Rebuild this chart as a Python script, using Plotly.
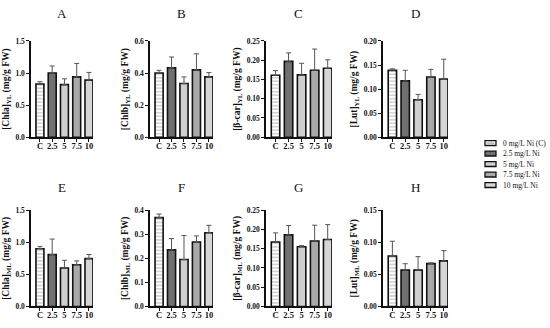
import plotly.graph_objects as go

categories = ["C", "2.5", "5", "7.5", "10"]
series_names = ["0 mg/L Ni (C)", "2.5 mg/L Ni", "5 mg/L Ni", "7.5 mg/L Ni", "10 mg/L Ni"]

panel_letters = ["A", "B", "C", "D", "E", "F", "G", "H"]
y_titles = ["[Chla]<sub>YL</sub> (mg/g FW)", "[Chlb]<sub>YL</sub> (mg/g FW)",
            "[β-car]<sub>YL</sub> (mg/g FW)", "[Lut]<sub>YL</sub> (mg/g FW)",
            "[Chla]<sub>ML</sub> (mg/g FW)", "[Chlb]<sub>ML</sub> (mg/g FW)",
            "[β-car]<sub>ML</sub> (mg/g FW)", "[Lut]<sub>ML</sub> (mg/g FW)"]

chla_yl = [0.83, 1.00, 0.82, 0.94, 0.89]
chla_yl_err = [0.035, 0.11, 0.09, 0.21, 0.12]
chlb_yl = [0.40, 0.433, 0.335, 0.42, 0.376]
chlb_yl_err = [0.017, 0.067, 0.041, 0.10, 0.027]
bcar_yl = [0.161, 0.197, 0.162, 0.174, 0.179]
bcar_yl_err = [0.012, 0.022, 0.030, 0.055, 0.022]
lut_yl = [0.139, 0.117, 0.078, 0.125, 0.121]
lut_yl_err = [0.003, 0.022, 0.011, 0.016, 0.041]
chla_ml = [0.90, 0.81, 0.60, 0.65, 0.745]
chla_ml_err = [0.035, 0.24, 0.12, 0.06, 0.065]
chlb_ml = [0.369, 0.235, 0.195, 0.268, 0.306]
chlb_ml_err = [0.015, 0.047, 0.10, 0.025, 0.031]
bcar_ml = [0.1675, 0.186, 0.155, 0.170, 0.174]
bcar_ml_err = [0.0235, 0.024, 0.003, 0.041, 0.0385]
lut_ml = [0.0786, 0.0566, 0.0566, 0.0668, 0.071]
lut_ml_err = [0.023, 0.010, 0.021, 0.0012, 0.016]

values = [chla_yl, chlb_yl, bcar_yl, lut_yl, chla_ml, chlb_ml, bcar_ml, lut_ml]
errors = [chla_yl_err, chlb_yl_err, bcar_yl_err, lut_yl_err,
          chla_ml_err, chlb_ml_err, bcar_ml_err, lut_ml_err]
y_max = [1.5, 0.6, 0.25, 0.20, 1.5, 0.4, 0.25, 0.15]
y_dtick = [0.5, 0.2, 0.05, 0.05, 0.5, 0.1, 0.05, 0.05]
y_fmt = [".1f", ".1f", ".2f", ".2f", ".1f", ".1f", ".2f", ".2f"]

bar_colors = ["#ffffff", "#707070", "#cfcfcf", "#a9a9a9", "#d6d6d6"]
patterns = ["-", "", "", "", ""]

FONT = "Liberation Serif"
W, H = 550, 328
col_px = [(31, 93), (150, 213), (266, 332), (383, 448)]
row_px = [(38, 137), (212, 311)]
title_y_px = [10, 189]

fig = go.Figure()
for p in range(8):
    r, c = divmod(p, 4)
    n = p + 1
    xa = "x" if n == 1 else f"x{n}"
    ya = "y" if n == 1 else f"y{n}"
    for i, cat in enumerate(categories):
        fig.add_trace(go.Bar(
            x=[i], y=[values[p][i]], width=0.65,
            name=series_names[i], showlegend=False,
            marker=dict(color=bar_colors[i],
                        line=dict(color="#111111", width=1.6),
                        pattern=dict(shape=patterns[i], fgcolor="#8a8a8a",
                                     bgcolor="#ffffff", size=3.5, solidity=0.35)),
            error_y=dict(type="data", symmetric=False, array=[errors[p][i]],
                         arrayminus=[0], color="#555555", thickness=1, width=2.5),
            xaxis=xa, yaxis=ya,
        ))
    x0, x1 = col_px[c]
    y0, y1 = row_px[r]
    xkey = "xaxis" if n == 1 else f"xaxis{n}"
    ykey = "yaxis" if n == 1 else f"yaxis{n}"
    fig.update_layout(**{
        xkey: dict(domain=[x0 / W, x1 / W], anchor=ya, range=[-0.73, 4.33],
                   tickvals=list(range(5)), ticktext=categories,
                   showline=True, linecolor="#111111", linewidth=1.5,
                   ticks="outside", ticklen=3, tickwidth=1, tickcolor="#111111",
                   showgrid=False, zeroline=False, ticklabelstandoff=-3,
                   tickfont=dict(family=FONT, size=8.5, color="#111111", weight="bold")),
        ykey: dict(domain=[1 - y1 / H, 1 - y0 / H], anchor=xa,
                   range=[0, y_max[p]], dtick=y_dtick[p], tick0=0, tickformat=y_fmt[p],
                   showline=True, linecolor="#111111", linewidth=1.5,
                   ticks="outside", ticklen=3, tickwidth=1, tickcolor="#111111",
                   showgrid=False, zeroline=False,
                   tickfont=dict(family=FONT, size=7.5, color="#111111", weight="bold"),
                   title=dict(text=y_titles[p], standoff=4,
                              font=dict(family=FONT, size=9.5, color="#111111", weight="bold"))),
    })
    fig.add_annotation(text=panel_letters[p], xref="paper", yref="paper",
                       x=(x0 + x1) / 2 / W, y=1 - title_y_px[r] / H,
                       showarrow=False, xanchor="center", yanchor="middle",
                       font=dict(family=FONT, size=13, color="#111111"))

# legend (drawn as small boxes + labels)
leg_x0, leg_x1 = 485, 496
for i, name in enumerate(series_names):
    yc = 143 + i * 10.8
    fig.add_shape(type="rect", xref="paper", yref="paper",
                  x0=leg_x0 / W, x1=leg_x1 / W, y0=1 - (yc + 2.5) / H, y1=1 - (yc - 2.5) / H,
                  fillcolor=bar_colors[i], line=dict(color="#111111", width=1.3))
    if patterns[i]:
        fig.add_shape(type="line", xref="paper", yref="paper",
                      x0=(leg_x0 + 1.5) / W, x1=(leg_x1 - 1.5) / W,
                      y0=1 - yc / H, y1=1 - yc / H,
                      line=dict(color="#8a8a8a", width=1))
    fig.add_annotation(text=name, xref="paper", yref="paper",
                       x=501 / W, y=1 - yc / H, showarrow=False,
                       xanchor="left", yanchor="middle",
                       font=dict(family=FONT, size=7.5, color="#111111"))

fig.update_layout(
    width=W, height=H, margin=dict(l=0, r=0, t=0, b=0),
    paper_bgcolor="white", plot_bgcolor="white",
    barmode="overlay", showlegend=False,
)
fig.write_html("out.html", config={"displayModeBar": False},
               post_script="document.body.style.margin='0px';document.body.style.overflow='hidden';")
